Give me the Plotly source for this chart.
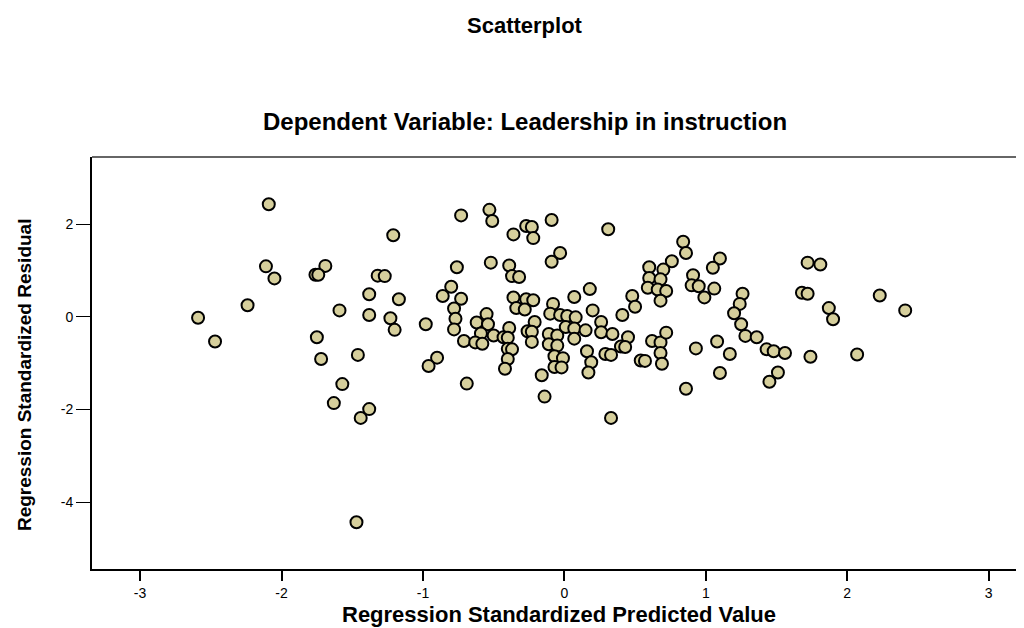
import plotly.graph_objects as go

# Regression standardized predicted value (x) and standardized residual (y)
pred = [
    -2.09, -1.21, -2.11, -1.69, -2.05, -1.76, -1.74, -1.32, -1.27, -1.38,
    -1.17, -2.24, -1.59, -1.38, -1.23, -1.20, -2.59, -2.47, -1.75, -1.72,
    -1.46, -1.57, -1.63, -1.38, -1.44, -1.47,
    -0.73, -0.53, -0.51, -0.27, -0.23, -0.09, -0.36, -0.22, 0.31, 0.84,
    0.86, -0.03, -0.09, 0.76, -0.52, -0.76, -0.39, -0.37, -0.32, 0.60,
    0.70, 0.60, 0.68, 0.91, 0.90, 0.95, 0.59, 0.66, 0.72, 0.68,
    -0.80, -0.86, -0.73, -0.36, -0.27, -0.22, -0.34, -0.28, -0.08, 0.07,
    0.18, 0.48, 0.50, 0.41, 0.20, -0.10, -0.03, 0.02, 0.08, 0.26,
    -0.78, -0.77, -0.78, -0.55, -0.62, -0.54, -0.98, -0.39, -0.21, -0.26,
    -0.23, -0.11, -0.05, 0.01, 0.07, 0.15, 0.07, 0.26, 0.34, 0.45,
    -0.59, -0.50, -0.43, -0.40, -0.71, -0.63, -0.58, -0.23, -0.11, -0.05,
    -0.40, -0.37, 0.16, 0.29, 0.33, 0.40, 0.43, 0.62, 0.68, 0.72,
    0.68, 0.93, 0.54, 0.57, 0.69, 0.19, -0.07, -0.01, -0.40, -0.90,
    -0.96, -0.69, -0.42, -0.07, -0.02, -0.16, -0.14, 0.17, 0.86, 0.33,
    1.10, 1.05, 1.06, 0.99, 1.26, 1.24, 1.20, 1.25, 1.28, 1.36,
    1.08, 1.17, 1.43, 1.48, 1.56, 1.74, 2.07, 1.72, 1.81, 1.68,
    1.72, 1.87, 1.90, 2.23, 2.41, 1.10, 1.51, 1.45,
]
resid = [
    2.43, 1.76, 1.09, 1.10, 0.83, 0.91, 0.91, 0.89, 0.88, 0.49,
    0.38, 0.25, 0.14, 0.04, -0.03, -0.28, -0.02, -0.53, -0.44, -0.91,
    -0.82, -1.45, -1.86, -1.99, -2.18, -4.43,
    2.19, 2.31, 2.07, 1.96, 1.94, 2.09, 1.78, 1.70, 1.89, 1.62,
    1.38, 1.38, 1.19, 1.20, 1.17, 1.07, 1.11, 0.88, 0.86, 1.07,
    1.02, 0.84, 0.81, 0.90, 0.68, 0.66, 0.63, 0.59, 0.56, 0.35,
    0.65, 0.45, 0.39, 0.42, 0.38, 0.36, 0.19, 0.16, 0.28, 0.43,
    0.60, 0.45, 0.22, 0.04, 0.14, 0.07, 0.04, 0.02, -0.01, -0.11,
    0.18, -0.04, -0.27, 0.06, -0.12, -0.16, -0.16, -0.24, -0.11, -0.31,
    -0.32, -0.37, -0.40, -0.22, -0.25, -0.29, -0.47, -0.33, -0.37, -0.44,
    -0.36, -0.40, -0.44, -0.45, -0.52, -0.55, -0.58, -0.54, -0.59, -0.62,
    -0.69, -0.70, -0.74, -0.80, -0.82, -0.64, -0.65, -0.52, -0.55, -0.34,
    -0.78, -0.68, -0.94, -0.95, -1.01, -0.98, -0.85, -0.89, -0.91, -0.88,
    -1.06, -1.44, -1.12, -1.08, -1.09, -1.26, -1.72, -1.20, -1.55, -2.18,
    1.26, 1.06, 0.61, 0.42, 0.50, 0.28, 0.08, -0.16, -0.41, -0.44,
    -0.53, -0.80, -0.70, -0.74, -0.78, -0.86, -0.81, 1.17, 1.13, 0.52,
    0.50, 0.19, -0.05, 0.46, 0.14, -1.21, -1.20, -1.40,
]

x_ticks = [-3, -2, -1, 0, 1, 2, 3]
y_ticks = [-4, -2, 0, 2]

FONT = "Liberation Sans, Arial, sans-serif"

fig = go.Figure()
fig.add_trace(go.Scatter(
    x=pred, y=resid, mode="markers",
    marker=dict(size=12, color="#d6cf9c", line=dict(color="black", width=2)),
    hoverinfo="x+y", showlegend=False,
))

fig.update_layout(
    width=1016, height=620,
    margin=dict(l=84, r=0, t=149, b=59),
    paper_bgcolor="white", plot_bgcolor="white",
    font=dict(family=FONT, color="black"),
    xaxis=dict(
        range=[-3.34, 3.25], tickvals=x_ticks, ticktext=[str(v) for v in x_ticks],
        showgrid=False, zeroline=False, showline=True, linecolor="black", linewidth=2,
        ticks="outside", ticklen=10, tickwidth=2, tickcolor="black",
        tickfont=dict(size=14, family=FONT), mirror=False,
    ),
    yaxis=dict(
        range=[-5.44, 3.45], tickvals=y_ticks, ticktext=[str(v) for v in y_ticks],
        showgrid=False, zeroline=False, showline=True, linecolor="black", linewidth=2,
        ticks="outside", ticklen=14, tickwidth=1.3, tickcolor="black",
        tickfont=dict(size=14, family=FONT), mirror=False,
    ),
    shapes=[dict(type="line", xref="paper", yref="paper", x0=0, x1=1, y0=1, y1=1,
                 line=dict(color="#333333", width=1.5))],
    annotations=[
        dict(text="<b>Scatterplot</b>", xref="paper", yref="paper", x=0.4646, y=1.320,
             xanchor="center", yanchor="middle", showarrow=False, font=dict(size=22)),
        dict(text="<b>Dependent Variable: Leadership in instruction</b>", xref="paper",
             yref="paper", x=0.4646, y=1.087, xanchor="center", yanchor="middle",
             showarrow=False, font=dict(size=24)),
        dict(text="<b>Regression Standardized Predicted Value</b>", xref="paper",
             yref="paper", x=0.501, y=-0.110, xanchor="center", yanchor="middle",
             showarrow=False, font=dict(size=22)),
        dict(text="<b>Regression Standardized Residual</b>", xref="paper", yref="paper",
             x=-0.073, y=0.473, xanchor="center", yanchor="middle", textangle=-90,
             showarrow=False, font=dict(size=19)),
    ],
)

fig.write_html("out.html")
